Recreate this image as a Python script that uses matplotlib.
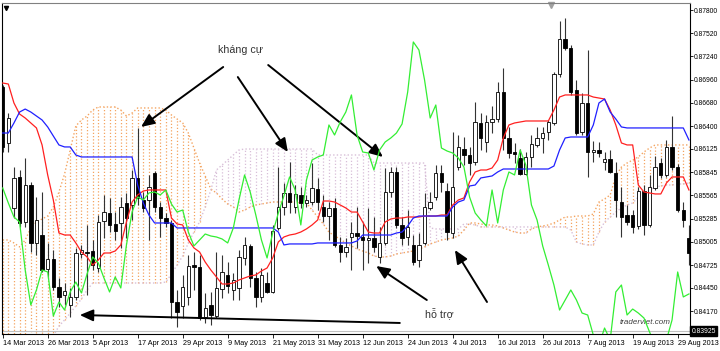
import matplotlib.pyplot as plt
import numpy as np

plt.rcParams['font.family'] = ['Liberation Sans', 'DejaVu Sans']

# daily bars, 14 Mar 2013 .. 2 Sep 2013 (weekdays)
date_labels = ['14 Mar 2013', '26 Mar 2013', '5 Apr 2013', '17 Apr 2013', '29 Apr 2013',
               '9 May 2013', '21 May 2013', '31 May 2013', '12 Jun 2013', '24 Jun 2013',
               '4 Jul 2013', '16 Jul 2013', '26 Jul 2013', '7 Aug 2013', '19 Aug 2013',
               '29 Aug 2013']
date_bars = [0, 8, 16, 24, 32, 40, 48, 56, 64, 72, 80, 88, 96, 104, 112, 120]

price_ticks = [0.87800, 0.87520, 0.87240, 0.86960, 0.86680, 0.86400, 0.86125, 0.85845,
               0.85565, 0.85285, 0.85005, 0.84725, 0.84450, 0.84170]
last_price = 0.83925

opens = [0.86872, 0.86197, 0.85413, 0.85787, 0.85244, 0.85690, 0.84991, 0.85087, 0.84676, 0.84797,
         0.84460, 0.84364, 0.84243, 0.84340, 0.84858, 0.84882, 0.84894, 0.84689, 0.85256, 0.85352,
         0.85220, 0.85232, 0.85473, 0.85449, 0.85775, 0.85509, 0.85509, 0.85835, 0.85425, 0.85292,
         0.85232, 0.84279, 0.84231, 0.84340, 0.84725, 0.84701, 0.84098, 0.84243, 0.84110, 0.84436,
         0.84605, 0.84424, 0.84448, 0.84810, 0.84955, 0.84569, 0.84340, 0.84508, 0.84400, 0.85172,
         0.85425, 0.85594, 0.85425, 0.85570, 0.85473, 0.85485, 0.85642, 0.85425, 0.85316, 0.85413,
         0.84967, 0.84882, 0.85063, 0.85111, 0.85063, 0.85027, 0.85051, 0.84822, 0.84991, 0.85606,
         0.85847, 0.85208, 0.85063, 0.84967, 0.84785, 0.84991, 0.85413, 0.85546, 0.85835, 0.85618,
         0.85111, 0.85907, 0.86124, 0.86052, 0.85967, 0.86438, 0.86209, 0.86450, 0.86486, 0.86812,
         0.86257, 0.86088, 0.86016, 0.85823, 0.86028, 0.86173, 0.86257, 0.86329, 0.86438, 0.87029,
         0.87451, 0.87342, 0.86836, 0.86329, 0.86679, 0.86088, 0.86112, 0.85967, 0.86004, 0.85835,
         0.85485, 0.85328, 0.85328, 0.85196, 0.85618, 0.85208, 0.85654, 0.85955, 0.85811, 0.86149,
         0.85907, 0.85388, 0.85051]
highs = [0.86896, 0.86558, 0.85907, 0.85871, 0.86016, 0.85726, 0.85546, 0.85606, 0.84991, 0.84906,
         0.84569, 0.84508, 0.84448, 0.84931, 0.84967, 0.85208, 0.85027, 0.85328, 0.85570, 0.85534,
         0.85364, 0.85546, 0.85594, 0.85871, 0.86378, 0.85606, 0.85811, 0.85859, 0.85485, 0.85352,
         0.85268, 0.84424, 0.84605, 0.84846, 0.84882, 0.84846, 0.84388, 0.84400, 0.84882, 0.84846,
         0.84761, 0.84629, 0.84906, 0.85063, 0.84979, 0.84641, 0.84689, 0.84641, 0.85208, 0.85907,
         0.85714, 0.85967, 0.85690, 0.85666, 0.85570, 0.85955, 0.85775, 0.85570, 0.85485, 0.85534,
         0.85063, 0.85051, 0.85244, 0.85425, 0.85244, 0.85413, 0.85304, 0.85184, 0.85895, 0.85907,
         0.85907, 0.85304, 0.85388, 0.85087, 0.85111, 0.85594, 0.85606, 0.85931, 0.85931, 0.85714,
         0.86329, 0.86293, 0.86269, 0.86149, 0.86691, 0.86558, 0.86534, 0.86643, 0.86932, 0.87101,
         0.86390, 0.86197, 0.86124, 0.86088, 0.86293, 0.86390, 0.86390, 0.86474, 0.87053, 0.87668,
         0.87704, 0.87379, 0.86956, 0.86800, 0.87318, 0.86221, 0.86209, 0.86088, 0.86112, 0.85967,
         0.85666, 0.85449, 0.85388, 0.85666, 0.85690, 0.85811, 0.86040, 0.86016, 0.86233, 0.86522,
         0.85943, 0.85485, 0.85208]
lows = [0.86088, 0.86088, 0.85292, 0.85184, 0.85184, 0.84882, 0.84846, 0.84641, 0.84581, 0.84424,
        0.84219, 0.84243, 0.84098, 0.84303, 0.84810, 0.84364, 0.84665, 0.84641, 0.85051, 0.85123,
        0.85027, 0.84931, 0.85051, 0.85268, 0.85449, 0.85364, 0.85027, 0.85364, 0.85063, 0.85184,
        0.84086, 0.83977, 0.84086, 0.84243, 0.84424, 0.84062, 0.84026, 0.84002, 0.84086, 0.84327,
        0.84388, 0.84303, 0.84303, 0.84725, 0.84460, 0.84219, 0.84279, 0.84388, 0.84388, 0.85147,
        0.85328, 0.85352, 0.85352, 0.85413, 0.85425, 0.85449, 0.85388, 0.85244, 0.85027, 0.84943,
        0.84761, 0.84822, 0.84665, 0.84931, 0.84665, 0.84749, 0.84882, 0.84749, 0.84967, 0.85546,
        0.85172, 0.84967, 0.84967, 0.84725, 0.84701, 0.84967, 0.85388, 0.85509, 0.85606, 0.85027,
        0.85051, 0.85871, 0.85931, 0.85811, 0.85931, 0.86112, 0.86088, 0.86317, 0.86450, 0.86112,
        0.86016, 0.85955, 0.85811, 0.85811, 0.85907, 0.86149, 0.86076, 0.86233, 0.86414, 0.86992,
        0.87318, 0.86776, 0.86293, 0.86293, 0.85787, 0.85967, 0.86028, 0.85871, 0.85835, 0.85304,
        0.85063, 0.85208, 0.85111, 0.85160, 0.85087, 0.85184, 0.85630, 0.85775, 0.85787, 0.85871,
        0.85364, 0.85184, 0.84725]
closes = [0.86149, 0.86498, 0.85775, 0.85232, 0.85690, 0.84991, 0.85268, 0.84665, 0.84797, 0.84460,
          0.84340, 0.84412, 0.84340, 0.84870, 0.84906, 0.84870, 0.84725, 0.85244, 0.85364, 0.85208,
          0.85135, 0.85425, 0.85292, 0.85775, 0.85534, 0.85413, 0.85666, 0.85425, 0.85292, 0.85232,
          0.84279, 0.84158, 0.84460, 0.84713, 0.84701, 0.84086, 0.84207, 0.84122, 0.84448, 0.84641,
          0.84472, 0.84544, 0.84822, 0.84967, 0.84569, 0.84340, 0.84605, 0.84400, 0.85135, 0.85425,
          0.85594, 0.85485, 0.85582, 0.85473, 0.85509, 0.85654, 0.85485, 0.85316, 0.85413, 0.84967,
          0.84882, 0.84943, 0.85111, 0.85075, 0.85027, 0.85051, 0.84943, 0.84991, 0.85606, 0.85847,
          0.85208, 0.85051, 0.85184, 0.84761, 0.84967, 0.85425, 0.85485, 0.85835, 0.85726, 0.85123,
          0.85666, 0.86149, 0.86052, 0.85955, 0.86450, 0.86257, 0.86450, 0.86486, 0.86812, 0.86257,
          0.86076, 0.86064, 0.85823, 0.86028, 0.86185, 0.86257, 0.86317, 0.86450, 0.87029, 0.87451,
          0.87342, 0.86812, 0.86317, 0.86679, 0.86088, 0.86112, 0.86076, 0.86004, 0.85847, 0.85509,
          0.85304, 0.85244, 0.85184, 0.85618, 0.85208, 0.85666, 0.85907, 0.85811, 0.86149, 0.85907,
          0.85388, 0.85268, 0.84870]

tenkan = [0.86920, 0.86908, 0.86679, 0.86546, 0.86498, 0.86438, 0.86378, 0.86173, 0.85811, 0.85509,
          0.85111, 0.85087, 0.85087, 0.84991, 0.84882, 0.84822, 0.84725, 0.84785, 0.84870, 0.84870,
          0.84894, 0.84967, 0.85244, 0.85485, 0.85570, 0.85618, 0.85630, 0.85630, 0.85630, 0.85630,
          0.85292, 0.85220, 0.85208, 0.85027, 0.84931, 0.84882, 0.84761, 0.84665, 0.84581, 0.84496,
          0.84496, 0.84508, 0.84544, 0.84569, 0.84593, 0.84605, 0.84653, 0.84689, 0.84810, 0.85003,
          0.85063, 0.85087, 0.85099, 0.85123, 0.85160, 0.85208, 0.85268, 0.85497, 0.85497, 0.85485,
          0.85449, 0.85413, 0.85364, 0.85364, 0.85244, 0.85123, 0.85111, 0.85111, 0.85244, 0.85280,
          0.85292, 0.85292, 0.85304, 0.85304, 0.85304, 0.85316, 0.85316, 0.85316, 0.85328, 0.85328,
          0.85449, 0.85509, 0.85534, 0.85726, 0.85847, 0.85871, 0.85871, 0.85895, 0.85991, 0.86257,
          0.86414, 0.86438, 0.86450, 0.86462, 0.86462, 0.86462, 0.86462, 0.86462, 0.86594, 0.86751,
          0.86776, 0.86776, 0.86776, 0.86776, 0.86776, 0.86751, 0.86739, 0.86727, 0.86594, 0.86414,
          0.86197, 0.86173, 0.86173, 0.85690, 0.85606, 0.85594, 0.85582, 0.85582, 0.85714, 0.85787,
          0.85787, 0.85787, 0.85630]
kijun = [0.86317, 0.86317, 0.86438, 0.86570, 0.86606, 0.86570, 0.86522, 0.86474, 0.86390, 0.86281,
         0.86173, 0.86149, 0.86149, 0.86052, 0.86028, 0.86028, 0.86028, 0.86028, 0.86028, 0.86028,
         0.86028, 0.86028, 0.86028, 0.86028, 0.85690, 0.85473, 0.85328, 0.85232, 0.85232, 0.85232,
         0.85232, 0.85172, 0.85172, 0.85172, 0.85172, 0.85172, 0.85172, 0.85172, 0.85172, 0.85172,
         0.85172, 0.85172, 0.85172, 0.85172, 0.85172, 0.85172, 0.85172, 0.85172, 0.85172, 0.85123,
         0.84967, 0.84979, 0.84979, 0.84979, 0.84979, 0.84979, 0.84991, 0.84991, 0.84991, 0.84991,
         0.84991, 0.84991, 0.84991, 0.85015, 0.85087, 0.85087, 0.85087, 0.85087, 0.85087, 0.85087,
         0.85111, 0.85123, 0.85196, 0.85292, 0.85316, 0.85316, 0.85316, 0.85316, 0.85316, 0.85316,
         0.85425, 0.85485, 0.85509, 0.85678, 0.85690, 0.85775, 0.85787, 0.85799, 0.85847, 0.85883,
         0.85883, 0.85883, 0.85883, 0.85883, 0.85883, 0.85883, 0.85883, 0.85883, 0.85919, 0.86112,
         0.86257, 0.86269, 0.86269, 0.86269, 0.86269, 0.86414, 0.86679, 0.86727, 0.86570, 0.86486,
         0.86390, 0.86378, 0.86378, 0.86378, 0.86378, 0.86378, 0.86378, 0.86378, 0.86378, 0.86378,
         0.86378, 0.86378, 0.86233]
chikou = [0.85654, 0.85473, 0.85304, 0.85244, 0.84665, 0.84243, 0.84424, 0.84665, 0.84641, 0.84110,
          0.84279, 0.84182, 0.84400, 0.84520, 0.84388, 0.84617, 0.84822, 0.84749, 0.84569, 0.84400,
          0.84581, 0.84448, 0.84967, 0.85364, 0.85546, 0.85509, 0.85594, 0.85606, 0.85570, 0.85630,
          0.85461, 0.85364, 0.85388, 0.85123, 0.84955, 0.85027, 0.85099, 0.85075, 0.85063, 0.85039,
          0.84991, 0.85172, 0.85509, 0.85811, 0.85606, 0.85328, 0.85027, 0.84810, 0.85111, 0.85352,
          0.85558, 0.85787, 0.85630, 0.85208, 0.85750, 0.85991, 0.86028, 0.86052, 0.86414, 0.86293,
          0.86450, 0.86570, 0.86776, 0.86293, 0.86088, 0.86076, 0.85871, 0.86112, 0.86209, 0.86257,
          0.86317, 0.86426, 0.86812, 0.87415, 0.87318, 0.86956, 0.86498, 0.86655, 0.86136, 0.86100,
          0.86076, 0.86016, 0.85907, 0.85546, 0.85352, 0.85268, 0.85196, 0.85630, 0.85232, 0.85630,
          0.85847, 0.85811, 0.86112, 0.85931, 0.85449, 0.85268, 0.84955, 0.84725, 0.84484, 0.84182,
          0.84303, 0.84424, 0.84303, 0.84146, 0.84122, 0.83880, 0.83760, 0.83965, 0.83821, 0.84400,
          0.84484, 0.84122, 0.84194, 0.84146, 0.84086, 0.83917, 0.83760, 0.83724, 0.83821, 0.84062,
          0.84641, 0.84340, 0.84376]
span_a = [0.85027, 0.85027, 0.84991, 0.84943, 0.85027, 0.85172, 0.85244, 0.85280, 0.85316, 0.85425,
          0.85606, 0.85823, 0.86112, 0.86402, 0.86474, 0.86522, 0.86594, 0.86631, 0.86631, 0.86631,
          0.86631, 0.86594, 0.86522, 0.86558, 0.86619, 0.86619, 0.86619, 0.86619, 0.86619, 0.86594,
          0.86534, 0.86486, 0.86438, 0.86317, 0.86136, 0.85955, 0.85799, 0.85642, 0.85594, 0.85522,
          0.85461, 0.85425, 0.85364, 0.85388, 0.85425, 0.85449, 0.85461, 0.85473, 0.85485, 0.85485,
          0.85485, 0.85485, 0.85485, 0.85473, 0.85473, 0.85388, 0.85304, 0.85220, 0.85123, 0.85075,
          0.85039, 0.84991, 0.84955, 0.84918, 0.84894, 0.84870, 0.84834, 0.84822, 0.84822, 0.84834,
          0.84858, 0.84870, 0.84882, 0.84894, 0.84918, 0.84943, 0.84979, 0.85003, 0.85027, 0.85039,
          0.85051, 0.85075, 0.85147, 0.85232, 0.85232, 0.85220, 0.85208, 0.85208, 0.85196, 0.85172,
          0.85147, 0.85123, 0.85111, 0.85111, 0.85160, 0.85184, 0.85196, 0.85208, 0.85232, 0.85268,
          0.85304, 0.85304, 0.85316, 0.85316, 0.85316, 0.85340, 0.85485, 0.85522, 0.85570, 0.85799,
          0.85907, 0.85955, 0.85991, 0.86028, 0.86088, 0.86136, 0.86173, 0.86173, 0.86173, 0.86173,
          0.86173, 0.86173, 0.86173]
span_b = [0.83700, 0.83700, 0.83700, 0.83700, 0.83700, 0.83724, 0.83748, 0.83784, 0.83821, 0.83869,
          0.83989, 0.84062, 0.84146, 0.84231, 0.84315, 0.84424, 0.84508, 0.84508, 0.84508, 0.84508,
          0.84508, 0.84508, 0.84508, 0.84508, 0.84508, 0.84508, 0.84508, 0.84508, 0.84508, 0.84520,
          0.84617, 0.84725, 0.84834, 0.84991, 0.85123, 0.85244, 0.85425, 0.85630, 0.85871, 0.85931,
          0.85991, 0.86052, 0.86112, 0.86124, 0.86124, 0.86124, 0.86124, 0.86124, 0.86124, 0.86124,
          0.86124, 0.86124, 0.86124, 0.86124, 0.86124, 0.86124, 0.86052, 0.86052, 0.86052, 0.86052,
          0.86052, 0.86052, 0.86052, 0.86052, 0.86052, 0.86052, 0.85955, 0.85955, 0.85955, 0.85955,
          0.85955, 0.85955, 0.85955, 0.85955, 0.85955, 0.85955, 0.85172, 0.85160, 0.85160, 0.85160,
          0.85160, 0.85160, 0.85220, 0.85220, 0.85208, 0.85184, 0.85184, 0.85184, 0.85184, 0.85184,
          0.85184, 0.85184, 0.85184, 0.85184, 0.85184, 0.85184, 0.85184, 0.85184, 0.85184, 0.85184,
          0.85184, 0.85147, 0.85003, 0.84979, 0.84967, 0.84967, 0.85123, 0.85244, 0.85304, 0.85364,
          0.85413, 0.85449, 0.85473, 0.85546, 0.85594, 0.85630, 0.85666, 0.85678, 0.85690, 0.85690,
          0.85702, 0.85702, 0.85714]

x = np.arange(len(opens))
o = np.array(opens); h = np.array(highs); l = np.array(lows); c = np.array(closes)
a = np.array(span_a); b = np.array(span_b)

fig = plt.figure(figsize=(7.2, 3.51), dpi=100)
ax = fig.add_axes([2 / 720, 17 / 351, 688 / 720, 331 / 351])

# kumo: dotted vertical hatch between the spans
kumo_cols = ['#f4a460' if a[i] >= b[i] else '#d8bfd8' for i in x]
ax.vlines(x, np.minimum(a, b), np.maximum(a, b), colors=kumo_cols,
          linestyles=(0, (1, 1.6)), lw=0.9, zorder=1)
ax.plot(x, a, color='#f4a460', ls=(0, (1, 1.6)), lw=1, zorder=1)
ax.plot(x, b, color='#d8bfd8', ls=(0, (1, 1.6)), lw=1, zorder=1)

ax.axhline(last_price, color='#c0c0c0', lw=0.8, zorder=1)

# candles
ax.vlines(x, l, h, colors='#333333', lw=0.8, zorder=2)
up = c >= o
body = np.maximum(np.abs(c - o), 0.00004)
ax.bar(x, body, bottom=np.minimum(o, c), width=0.6,
       color=np.where(up, 'white', 'black'), edgecolor='black', linewidth=0.6, zorder=3)

ax.plot(x, tenkan, color='#ff2020', lw=0.9, zorder=4)
ax.plot(x, kijun, color='#2020ff', lw=0.9, zorder=4)
ax.plot(x, chikou, color='#33ee33', lw=0.9, zorder=4)

ax.set_xlim(-0.124, 122.19)
ax.set_ylim(0.83893, 0.87885)

ax.set_xticks(date_bars)
ax.set_xticklabels(date_labels, ha='left')
ax.set_yticks(price_ticks)
ax.set_yticklabels(['%.5f' % v for v in price_ticks])
ax.yaxis.tick_right()
ax.tick_params(axis='x', length=3, width=0.6, pad=1.5, labelsize=5.2, colors='black')
ax.tick_params(axis='y', length=2, width=0.6, pad=0.8, labelsize=4.9, colors='black')
for s in ['left', 'bottom', 'right']:
    ax.spines[s].set_color('black')
    ax.spines[s].set_linewidth(0.8)
ax.spines['top'].set_color('#808080')
ax.spines['top'].set_linewidth(0.8)

ax.text(1.002, last_price, '%.5f' % last_price, transform=ax.get_yaxis_transform(),
        ha='left', va='center', fontsize=4.9, color='white',
        bbox=dict(boxstyle='square,pad=0.2', fc='black', ec='black'))

ax.plot([0.006], [0.985], marker='v', color='black', ms=3, transform=ax.transAxes, clip_on=False)
ax.plot([0.798], [0.995], marker='v', color='#a0a0a0', ms=4, transform=ax.transAxes, clip_on=False)

# annotations
arrow = dict(arrowstyle='-|>,head_length=0.8,head_width=0.35', color='black', lw=1.4,
             mutation_scale=10, shrinkA=0, shrinkB=0)
ax.text(42.2, 0.87318, 'kháng cự', fontsize=7.7, color='#333333', ha='center', va='center')
ax.annotate('', xy=(24.6, 0.86390), xytext=(39.2, 0.87113), arrowprops=arrow)
ax.annotate('', xy=(50.7, 0.86088), xytext=(41.8, 0.86992), arrowprops=arrow)
ax.annotate('', xy=(67.6, 0.86028), xytext=(47.2, 0.87137), arrowprops=arrow)

ax.text(77.6, 0.84146, 'hỗ trợ', fontsize=7.7, color='#333333', ha='center', va='center')
ax.annotate('', xy=(66.4, 0.84713), xytext=(75.4, 0.84303), arrowprops=arrow)
ax.annotate('', xy=(80.4, 0.84906), xytext=(86.1, 0.84279), arrowprops=arrow)
ax.annotate('', xy=(13.7, 0.84122), xytext=(70.6, 0.84026), arrowprops=arrow)

ax.text(114.2, 0.84026, 'traderviet.com', fontsize=5.8, style='italic', color='#404040',
        ha='center', va='center')

fig.savefig('out.png', dpi=100)
